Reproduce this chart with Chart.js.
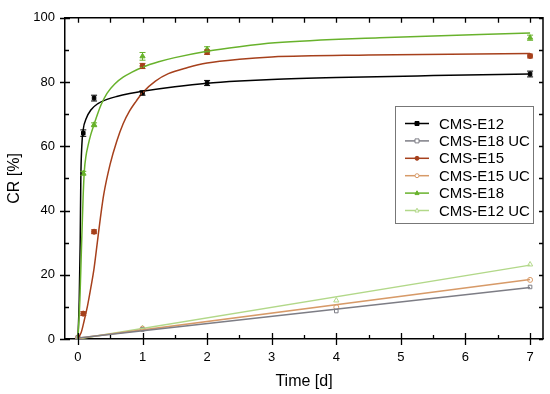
<!DOCTYPE html>
<html><head><meta charset="utf-8">
<script src="https://cdn.jsdelivr.net/npm/chart.js@4/dist/chart.umd.min.js"></script>
<style>html,body{margin:0;padding:0;background:#fff;}</style>
</head><body>
<canvas id="c" width="550" height="394"></canvas>
<script>
// ---- data ----
const seriesNames = ['CMS-E12','CMS-E18 UC','CMS-E15','CMS-E15 UC','CMS-E18','CMS-E12 UC'];
const xTicks = [0,1,2,3,4,5,6,7];
const yTicks = [0,20,40,60,80,100];

const timesFast = [0, 0.083, 0.25, 1, 2, 7];
const e12 = [0, 64.1, 75.0, 76.6, 79.7, 82.5];
const e12Err = [0, 1.0, 0.9, 0.7, 0.8, 0.9];
const e15 = [0, 7.9, 33.4, 85.0, 89.3, 88.1];
const e15Err = [0, 0.6, 0.6, 0.8, 0.7, 0.6];
const e18 = [0, 51.6, 66.7, 88.0, 90.2, 93.8];
const e18Err = [0, 0.6, 0.6, 1.2, 0.8, 0.8];

const timesUC = [0, 1, 4, 7];
const e18uc = [0.5, 3.0, 8.7, 16.2];
const e15uc = [0.5, 3.2, 9.9, 18.4];
const e12uc = [0.5, 3.4, 12.0, 23.2];

// fitted curves
const fitE12T = [0, 0.02, 0.035, 0.045, 0.06, 0.08, 0.13, 0.2, 0.31, 0.45, 0.6, 0.8, 1, 1.5, 2, 2.5, 3, 4, 5.5, 7];
const fitE12Y = [0, 12, 30, 50, 60, 65, 68.7, 71.3, 73.3, 74.6, 75.5, 76.4, 77.1, 78.5, 79.6, 80.3, 80.8, 81.4, 82.0, 82.5];
const fitE18T = [0, 0.03, 0.053, 0.08, 0.1, 0.125, 0.16, 0.2, 0.25, 0.3, 0.36, 0.45, 0.57, 0.7, 0.83, 1, 1.25, 1.5, 2, 2.5, 3.05, 4.67, 7];
const fitE18Y = [0, 12, 27, 44, 52.5, 57, 60.5, 63.7, 66.8, 69.8, 73.0, 76.5, 79.4, 81.5, 83.0, 84.6, 86.3, 87.6, 89.6, 91.0, 92.2, 93.8, 95.3];
const fitE15T = [0, 0.05, 0.1, 0.15, 0.2, 0.25, 0.3, 0.35, 0.4, 0.5, 0.6, 0.7, 0.8, 0.9, 1.0, 1.2, 1.4, 1.7, 2, 2.5, 3, 4.5, 7];
const fitE15Y = [0.3, 2, 6, 10.5, 16, 22, 30, 38, 45, 54.5, 61.5, 67, 71, 74, 76.7, 80.3, 82.6, 84.5, 85.9, 87.1, 87.8, 88.4, 88.9];
const fitUCT = [0, 7];
const fitE18ucY = [0.3, 16.0];
const fitE15ucY = [0.2, 18.5];
const fitE12ucY = [0.0, 23.0];

// ---- styles ----
const colors = {
  'CMS-E12': '#000000',
  'CMS-E18 UC': '#7d7d85',
  'CMS-E15': '#a6401c',
  'CMS-E15 UC': '#d79a68',
  'CMS-E18': '#68b22c',
  'CMS-E12 UC': '#b2d889'
};
const markers = {
  'CMS-E12': {style:'rect', fill:true},
  'CMS-E18 UC': {style:'rect', fill:false},
  'CMS-E15': {style:'circle', fill:true},
  'CMS-E15 UC': {style:'circle', fill:false},
  'CMS-E18': {style:'triangle', fill:true},
  'CMS-E12 UC': {style:'triangle', fill:false}
};
const FONT = "'Liberation Sans', Arial, sans-serif";

const zip = (xs, ys) => xs.map((x, i) => ({x, y: ys[i]}));

function fitDs(name, xs, ys, mono) {
  return {label: name + ' fit', data: zip(xs, ys), showLine: true, borderColor: colors[name],
    borderWidth: 1.5, pointRadius: 0, fill: false, tension: mono ? 0.4 : 0,
    cubicInterpolationMode: mono ? 'monotone' : 'default'};
}
function ptDs(name, xs, ys, errs) {
  const m = markers[name];
  return {label: name, data: zip(xs, ys), showLine: false, pointStyle: m.style,
    pointRadius: m.style === 'triangle' ? 3 : 2.5, borderWidth: 1, borderColor: colors[name],
    backgroundColor: m.fill ? colors[name] : '#ffffff', errors: errs || null};
}

const datasets = [
  fitDs('CMS-E18 UC', fitUCT, fitE18ucY, false),
  fitDs('CMS-E15 UC', fitUCT, fitE15ucY, false),
  fitDs('CMS-E12 UC', fitUCT, fitE12ucY, false),
  fitDs('CMS-E15', fitE15T, fitE15Y, true),
  fitDs('CMS-E18', fitE18T, fitE18Y, true),
  fitDs('CMS-E12', fitE12T, fitE12Y, true),
  ptDs('CMS-E18 UC', timesUC, e18uc),
  ptDs('CMS-E15 UC', timesUC, e15uc),
  ptDs('CMS-E12 UC', timesUC, e12uc),
  ptDs('CMS-E15', timesFast, e15, e15Err),
  ptDs('CMS-E18', timesFast, e18, e18Err),
  ptDs('CMS-E12', timesFast, e12, e12Err)
];

function drawMarker(ctx, style, x, y, r, color, fill) {
  ctx.save();
  ctx.strokeStyle = color; ctx.fillStyle = fill ? color : '#fff'; ctx.lineWidth = 1;
  ctx.beginPath();
  if (style === 'rect') { ctx.rect(x - r, y - r, 2 * r, 2 * r); }
  else if (style === 'circle') { ctx.arc(x, y, r, 0, Math.PI * 2); }
  else { ctx.moveTo(x, y - r * 1.15); ctx.lineTo(x + r, y + r * 0.75); ctx.lineTo(x - r, y + r * 0.75); ctx.closePath(); }
  ctx.fill(); ctx.stroke();
  ctx.restore();
}

const errorBars = {
  id: 'errorBars',
  afterDatasetsDraw(chart) {
    const ctx = chart.ctx, xs = chart.scales.x, ys = chart.scales.y;
    chart.data.datasets.forEach(ds => {
      if (!ds.errors) return;
      ctx.save(); ctx.strokeStyle = ds.borderColor; ctx.lineWidth = 1;
      ds.data.forEach((p, i) => {
        const e = ds.errors[i]; if (!e) return;
        const px = xs.getPixelForValue(p.x);
        const y1 = ys.getPixelForValue(p.y - e), y2 = ys.getPixelForValue(p.y + e);
        ctx.beginPath();
        ctx.moveTo(px, y1); ctx.lineTo(px, y2);
        ctx.moveTo(px - 3, y1); ctx.lineTo(px + 3, y1);
        ctx.moveTo(px - 3, y2); ctx.lineTo(px + 3, y2);
        ctx.stroke();
      });
      ctx.restore();
    });
  }
};

const frame = {
  id: 'frame',
  afterDraw(chart) {
    const ctx = chart.ctx, a = chart.chartArea, xs = chart.scales.x, ys = chart.scales.y;
    ctx.save();
    ctx.strokeStyle = '#000'; ctx.lineWidth = 1.5;
    ctx.beginPath();
    ctx.moveTo(a.left, a.top); ctx.lineTo(a.right, a.top); ctx.lineTo(a.right, a.bottom);
    ctx.stroke();
    ctx.lineWidth = 1.3;
    ctx.beginPath();
    for (let v = 0; v <= 7.0001; v += 0.5) {
      const px = Math.round(xs.getPixelForValue(v)) + 0.5;
      const major = Math.abs(v - Math.round(v)) < 1e-6;
      if (major) { ctx.moveTo(px, a.bottom + 6); ctx.lineTo(px, a.bottom - 6); }
      else { ctx.moveTo(px, a.bottom); ctx.lineTo(px, a.bottom - 4); }
      ctx.moveTo(px, a.top); ctx.lineTo(px, a.top + 5);
    }
    for (let v = 0; v <= 100; v += 10) {
      const py = Math.round(ys.getPixelForValue(v)) + 0.5;
      const major = v % 20 === 0;
      if (major) { ctx.moveTo(a.left - 5, py); ctx.lineTo(a.left + 5, py); }
      else { ctx.moveTo(a.left, py); ctx.lineTo(a.left + 4, py); }
      ctx.moveTo(a.right, py); ctx.lineTo(a.right - 4, py);
    }
    ctx.stroke();

    // legend box
    const bx = 395, by = 106, bw = 138, bh = 117;
    ctx.fillStyle = '#fff'; ctx.fillRect(bx, by, bw, bh);
    ctx.strokeStyle = '#777'; ctx.lineWidth = 1;
    ctx.strokeRect(bx + 0.5, by + 0.5, bw, bh);
    ctx.font = '15px ' + FONT; ctx.textBaseline = 'middle'; ctx.textAlign = 'left';
    seriesNames.forEach((n, i) => {
      const y = 123.5 + i * 17.4;
      ctx.strokeStyle = colors[n]; ctx.lineWidth = 1.5;
      ctx.beginPath(); ctx.moveTo(405, y); ctx.lineTo(429, y); ctx.stroke();
      drawMarker(ctx, markers[n].style, 417, y, 2, colors[n], markers[n].fill);
      ctx.fillStyle = '#000'; ctx.fillText(n, 439, y + 1);
    });
    ctx.restore();
  }
};

new Chart(document.getElementById('c'), {
  type: 'scatter',
  data: {datasets},
  options: {
    responsive: false, animation: false, devicePixelRatio: 1,
    layout: {padding: {top: 13, right: 7, left: 0, bottom: 0}},
    plugins: {legend: {display: false}, tooltip: {enabled: false}},
    scales: {
      x: {type: 'linear', min: -0.2, max: 7.2,
        afterBuildTicks: s => { s.ticks = xTicks.map(v => ({value: v})); },
        afterFit: s => { s.height = 55; },
        grid: {display: false, drawTicks: false},
        border: {display: true, color: '#000', width: 1.5},
        ticks: {color: '#000', padding: 11, font: {family: FONT, size: 13}, callback: v => String(v)},
        title: {display: true, text: 'Time [d]', color: '#000', font: {family: FONT, size: 16}, padding: {top: 0, bottom: 3}}
      },
      y: {type: 'linear', min: 0, max: 100,
        afterBuildTicks: s => { s.ticks = yTicks.map(v => ({value: v})); },
        afterFit: s => { s.width = 65; },
        grid: {display: false, drawTicks: false},
        border: {display: true, color: '#000', width: 1.5},
        ticks: {color: '#000', padding: 10, font: {family: FONT, size: 13}, callback: v => String(v)},
        title: {display: true, text: 'CR [%]', color: '#000', font: {family: FONT, size: 16}, padding: {top: 5, bottom: 0}}
      }
    }
  },
  plugins: [errorBars, frame]
});
</script>
</body></html>
